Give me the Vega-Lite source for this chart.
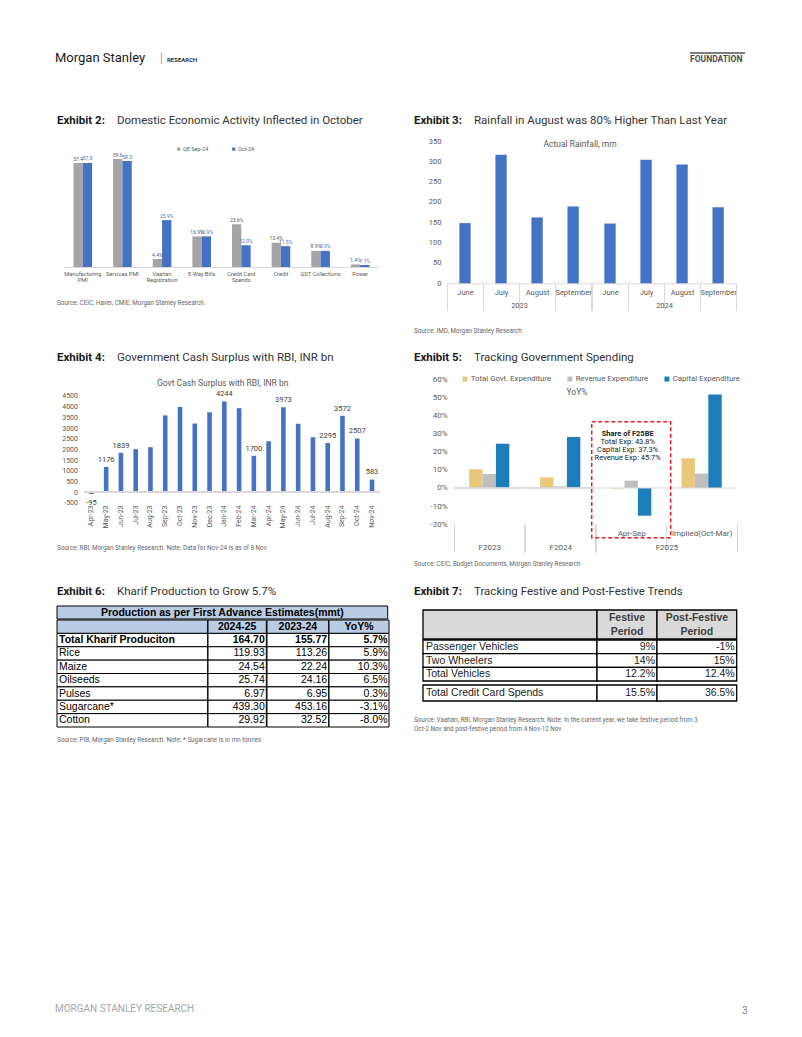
{
"$schema": "https://vega.github.io/schema/vega-lite/v6.json",
"autosize": {"type": "pad"},
"padding": {"left": 55, "top": 50, "right": 5, "bottom": 5},
"background": "#ffffff",
"config": {"view": {"stroke": null}, "font": "Roboto", "axis": {"labelFont": "Roboto", "labelColor": "#595959", "titleFont": "Roboto"}, "legend": {"labelFont": "Roboto", "labelColor": "#595959"}, "title": {"font": "Roboto", "fontWeight": "normal", "color": "#262626"}},
"datasets": {
"ex2": [
{"c": "Manufacturing PMI", "s": "QE Sep-24", "v": 57.4, "lbl": "57.4"},
{"c": "Manufacturing PMI", "s": "Oct-24", "v": 57.5, "lbl": "57.5"},
{"c": "Services PMI", "s": "QE Sep-24", "v": 59.6, "lbl": "59.6"},
{"c": "Services PMI", "s": "Oct-24", "v": 58.5, "lbl": "58.5"},
{"c": "Vaahan Registration", "s": "QE Sep-24", "v": 4.4, "lbl": "4.4%"},
{"c": "Vaahan Registration", "s": "Oct-24", "v": 25.9, "lbl": "25.9%"},
{"c": "E-Way Bills", "s": "QE Sep-24", "v": 16.9, "lbl": "16.9%"},
{"c": "E-Way Bills", "s": "Oct-24", "v": 16.9, "lbl": "16.9%"},
{"c": "Credit Card Spends", "s": "QE Sep-24", "v": 23.6, "lbl": "23.6%"},
{"c": "Credit Card Spends", "s": "Oct-24", "v": 12.0, "lbl": "12.0%"},
{"c": "Credit", "s": "QE Sep-24", "v": 13.4, "lbl": "13.4%"},
{"c": "Credit", "s": "Oct-24", "v": 11.5, "lbl": "11.5%"},
{"c": "GST Collections", "s": "QE Sep-24", "v": 8.9, "lbl": "8.9%"},
{"c": "GST Collections", "s": "Oct-24", "v": 8.9, "lbl": "8.9%"},
{"c": "Power", "s": "QE Sep-24", "v": 1.4, "lbl": "1.4%"},
{"c": "Power", "s": "Oct-24", "v": 1.1, "lbl": "1.1%"}
],
"ex3": [
{"year": "2023", "month": "June", "mm": 148},
{"year": "2023", "month": "July", "mm": 316},
{"year": "2023", "month": "August", "mm": 162},
{"year": "2023", "month": "September", "mm": 189},
{"year": "2024", "month": "June", "mm": 147},
{"year": "2024", "month": "July", "mm": 304},
{"year": "2024", "month": "August", "mm": 292},
{"year": "2024", "month": "September", "mm": 187}
],
"ex4": [
{"m": "Apr-23", "val": -95, "show": true},
{"m": "May-23", "val": 1176, "show": true},
{"m": "Jun-23", "val": 1839, "show": true},
{"m": "Jul-23", "val": 2010, "show": false},
{"m": "Aug-23", "val": 2100, "show": false},
{"m": "Sep-23", "val": 3590, "show": false},
{"m": "Oct-23", "val": 3990, "show": false},
{"m": "Nov-23", "val": 3210, "show": false},
{"m": "Dec-23", "val": 3740, "show": false},
{"m": "Jan-24", "val": 4244, "show": true},
{"m": "Feb-24", "val": 3930, "show": false},
{"m": "Mar-24", "val": 1700, "show": true},
{"m": "Apr-24", "val": 2380, "show": false},
{"m": "May-24", "val": 3973, "show": true},
{"m": "Jun-24", "val": 3200, "show": false},
{"m": "Jul-24", "val": 2570, "show": false},
{"m": "Aug-24", "val": 2295, "show": true},
{"m": "Sep-24", "val": 3572, "show": true},
{"m": "Oct-24", "val": 2507, "show": true},
{"m": "Nov-24", "val": 583, "show": true}
],
"ex5": [
{"grp": "F2023", "clu": "F2023", "ser": "Total Govt. Expenditure", "v": 10.4},
{"grp": "F2023", "clu": "F2023", "ser": "Revenue Expenditure", "v": 7.8},
{"grp": "F2023", "clu": "F2023", "ser": "Capital Expenditure", "v": 24.6},
{"grp": "F2024", "clu": "F2024", "ser": "Total Govt. Expenditure", "v": 5.9},
{"grp": "F2024", "clu": "F2024", "ser": "Revenue Expenditure", "v": 0.9},
{"grp": "F2024", "clu": "F2024", "ser": "Capital Expenditure", "v": 28.3},
{"grp": "F2025", "clu": "Apr-Sep", "ser": "Total Govt. Expenditure", "v": -0.3},
{"grp": "F2025", "clu": "Apr-Sep", "ser": "Revenue Expenditure", "v": 4.1},
{"grp": "F2025", "clu": "Apr-Sep", "ser": "Capital Expenditure", "v": -15.4},
{"grp": "F2025", "clu": "Implied(Oct-Mar)", "ser": "Total Govt. Expenditure", "v": 16.5},
{"grp": "F2025", "clu": "Implied(Oct-Mar)", "ser": "Revenue Expenditure", "v": 8.0},
{"grp": "F2025", "clu": "Implied(Oct-Mar)", "ser": "Capital Expenditure", "v": 52.0}
],
"ex5box": [{"clu": "Apr-Sep", "top": 36.8, "bot": -27.6}],
"ex5note": [
{"clu": "Apr-Sep", "v": 29.8, "t": "Share of F25BE", "b": true},
{"clu": "Apr-Sep", "v": 25.4, "t": "Total Exp: 43.8%", "b": false},
{"clu": "Apr-Sep", "v": 21.3, "t": "Capital Exp: 37.3%", "b": false},
{"clu": "Apr-Sep", "v": 16.7, "t": "Revenue Exp: 45.7%", "b": false}
],
"t6": [
{"r": "h", "k": "h", "c1": "", "c2": "2024-25", "c3": "2023-24", "c4": "YoY%"},
{"r": "t", "k": "b", "c1": "Total Kharif Produciton", "c2": "164.70", "c3": "155.77", "c4": "5.7%"},
{"r": "1", "k": "n", "c1": "Rice", "c2": "119.93", "c3": "113.26", "c4": "5.9%"},
{"r": "2", "k": "n", "c1": "Maize", "c2": "24.54", "c3": "22.24", "c4": "10.3%"},
{"r": "3", "k": "n", "c1": "Oilseeds", "c2": "25.74", "c3": "24.16", "c4": "6.5%"},
{"r": "4", "k": "n", "c1": "Pulses", "c2": "6.97", "c3": "6.95", "c4": "0.3%"},
{"r": "5", "k": "n", "c1": "Sugarcane*", "c2": "439.30", "c3": "453.16", "c4": "-3.1%"},
{"r": "6", "k": "n", "c1": "Cotton", "c2": "29.92", "c3": "32.52", "c4": "-8.0%"}
],
"t7h": [{"c1": "", "c2": "Festive\nPeriod", "c3": "Post-Festive\nPeriod"}],
"t7": [
{"r": "pv", "c1": "Passenger Vehicles", "c2": "9%", "c3": "-1%"},
{"r": "tw", "c1": "Two Wheelers", "c2": "14%", "c3": "15%"},
{"r": "tv", "c1": "Total Vehicles", "c2": "12.2%", "c3": "12.4%"},
{"r": "cc", "c1": "Total Credit Card Spends", "c2": "15.5%", "c3": "36.5%"}
]
},
"spacing": 19,
"bounds": "full",
"resolve": {"scale": {"color": "independent"}, "legend": {"color": "independent"}},
"hconcat": [
{"vconcat": [
 {"hconcat": [
  {"width": 105, "height": 15, "data": {"values": [{}]}, "mark": {"type": "text", "fontSize": 0.1}, "encoding": {"text": {"value": ""}}, "title": {"text": "Morgan Stanley", "orient": "bottom", "anchor": "start", "offset": -13, "font": "Roboto", "fontSize": 13, "fontWeight": "normal", "color": "#1a1a1a"}},
  {"width": 7, "height": 15, "data": {"values": [{}]}, "mark": {"type": "text", "fontSize": 0.1}, "encoding": {"text": {"value": ""}}, "title": {"text": "|", "orient": "bottom", "anchor": "start", "offset": -12, "font": "Roboto", "fontSize": 12, "fontWeight": "normal", "color": "#999999"}},
  {"width": 60, "height": 15, "data": {"values": [{}]}, "mark": {"type": "text", "fontSize": 0.1}, "encoding": {"text": {"value": ""}}, "title": {"text": "RESEARCH", "orient": "bottom", "anchor": "start", "offset": -8.5, "font": "Roboto", "fontSize": 6, "fontWeight": "bold", "color": "#333333"}}
 ], "spacing": 0, "bounds": "flush"},
 {"width": 1, "height": 48, "data": {"values": [{}]}, "mark": {"type": "text", "fontSize": 0.1}, "encoding": {"text": {"value": ""}}},
 {"hconcat": [
  {"width": 62, "height": 14, "data": {"values": [{}]}, "mark": {"type": "text", "fontSize": 0.1}, "encoding": {"text": {"value": ""}}, "title": {"text": "Exhibit 2:", "orient": "bottom", "anchor": "start", "offset": -12, "dx": 2, "font": "Roboto", "fontSize": 11.5, "fontWeight": "bold", "color": "#1a1a1a"}},
  {"width": 278, "height": 14, "data": {"values": [{}]}, "mark": {"type": "text", "fontSize": 0.1}, "encoding": {"text": {"value": ""}}, "title": {"text": "Domestic Economic Activity Inflected in October", "orient": "bottom", "anchor": "start", "offset": -12, "font": "Roboto", "fontSize": 11.5, "fontWeight": "normal", "color": "#333333"}}
 ], "spacing": 0, "bounds": "flush"},
 {"width": 1, "height": 14, "data": {"values": [{}]}, "mark": {"type": "text", "fontSize": 0.1}, "encoding": {"text": {"value": ""}}},
 {"hconcat": [
  {"width": 8, "height": 149, "data": {"values": [{}]}, "mark": {"type": "text", "fontSize": 0.1}, "encoding": {"text": {"value": ""}}},
  {"width": 317, "height": 149, "data": {"name": "ex2"},
   "resolve": {"axis": {"x": "independent", "y": "independent"}},
   "layer": [
    {"transform": [{"filter": "datum.s === 'QE Sep-24'"}],
     "mark": {"type": "bar", "xOffset": -4.65, "width": 9.3},
     "encoding": {
      "x": {"field": "c", "type": "nominal", "sort": null, "title": null, "scale": {"domain": ["Manufacturing PMI", "Services PMI", "Vaahan Registration", "E-Way Bills", "Credit Card Spends", "Credit", "GST Collections", "Power"], "paddingInner": 0.53, "paddingOuter": 0.265},
       "axis": {"orient": "bottom", "offset": -23, "labelAngle": 0, "labelFontSize": 5.7, "labelColor": "#595959", "labelPadding": 3.5, "labelLineHeight": 6.2, "labelOverlap": false, "labelLimit": 0, "ticks": false, "domain": true, "domainColor": "#D9D9D9", "grid": false,
        "labelExpr": "datum.value == 'Manufacturing PMI' ? ['Manufacturing', 'PMI'] : datum.value == 'Vaahan Registration' ? ['Vaahan', 'Registration'] : datum.value == 'Credit Card Spends' ? ['Credit Card', 'Spends'] : datum.label"}},
      "y": {"field": "v", "type": "quantitative", "title": null, "scale": {"domain": [-12.71, 69.61], "nice": false, "zero": false}, "axis": null},
      "color": {"field": "s", "type": "nominal", "scale": {"domain": ["QE Sep-24", "Oct-24"], "range": ["#A5A5A5", "#4472C4"]},
       "legend": {"orient": "none", "legendX": 113, "legendY": 5, "direction": "horizontal", "title": null, "symbolType": "square", "symbolSize": 10, "symbolStrokeWidth": 0, "labelFontSize": 5.5, "labelColor": "#595959", "labelOffset": 1.5, "columnPadding": 22, "padding": 0}}
     }},
    {"transform": [{"filter": "datum.s === 'Oct-24'"}],
     "mark": {"type": "bar", "xOffset": 4.65, "width": 9.3},
     "encoding": {
      "x": {"field": "c", "type": "nominal", "sort": null, "title": null, "axis": null},
      "y": {"field": "v", "type": "quantitative", "title": null, "axis": null},
      "color": {"field": "s", "type": "nominal", "scale": {"domain": ["QE Sep-24", "Oct-24"], "range": ["#A5A5A5", "#4472C4"]},
       "legend": {"orient": "none", "legendX": 113, "legendY": 5, "direction": "horizontal", "title": null, "symbolType": "square", "symbolSize": 10, "symbolStrokeWidth": 0, "labelFontSize": 5.5, "labelColor": "#595959", "labelOffset": 1.5, "columnPadding": 22, "padding": 0}}
     }},
    {"transform": [{"filter": "datum.s === 'QE Sep-24'"}],
     "mark": {"type": "text", "baseline": "bottom", "dy": -1.5, "xOffset": -4.65, "fontSize": 5, "font": "Roboto", "color": "#595959"},
     "encoding": {"x": {"field": "c", "type": "nominal", "title": null, "axis": null}, "y": {"field": "v", "type": "quantitative", "title": null, "axis": null}, "text": {"field": "lbl", "type": "nominal"}}},
    {"transform": [{"filter": "datum.s === 'Oct-24'"}],
     "mark": {"type": "text", "baseline": "bottom", "dy": -1.5, "xOffset": 4.65, "fontSize": 5, "font": "Roboto", "color": "#4472C4"},
     "encoding": {"x": {"field": "c", "type": "nominal", "title": null, "axis": null}, "y": {"field": "v", "type": "quantitative", "title": null, "axis": null}, "text": {"field": "lbl", "type": "nominal"}}}
   ]}
 ], "spacing": 0, "bounds": "flush", "resolve": {"scale": {"color": "independent"}, "legend": {"color": "independent"}}},
 {"width": 1, "height": 9, "data": {"values": [{}]}, "mark": {"type": "text", "fontSize": 0.1}, "encoding": {"text": {"value": ""}}},
 {"width": 330, "height": 8, "data": {"values": [{}]}, "mark": {"type": "text", "fontSize": 0.1}, "encoding": {"text": {"value": ""}}, "title": {"text": "Source: CEIC, Haver, CMIE, Morgan Stanley Research.", "orient": "bottom", "anchor": "start", "offset": -7, "dx": 2, "font": "Roboto", "fontSize": 6.3, "fontWeight": "normal", "color": "#666666"}},
 {"width": 1, "height": 43, "data": {"values": [{}]}, "mark": {"type": "text", "fontSize": 0.1}, "encoding": {"text": {"value": ""}}},
 {"hconcat": [
  {"width": 62, "height": 14, "data": {"values": [{}]}, "mark": {"type": "text", "fontSize": 0.1}, "encoding": {"text": {"value": ""}}, "title": {"text": "Exhibit 4:", "orient": "bottom", "anchor": "start", "offset": -12, "dx": 2, "font": "Roboto", "fontSize": 11.5, "fontWeight": "bold", "color": "#1a1a1a"}},
  {"width": 278, "height": 14, "data": {"values": [{}]}, "mark": {"type": "text", "fontSize": 0.1}, "encoding": {"text": {"value": ""}}, "title": {"text": "Government Cash Surplus with RBI, INR bn", "orient": "bottom", "anchor": "start", "offset": -12, "font": "Roboto", "fontSize": 11.5, "fontWeight": "normal", "color": "#333333"}}
 ], "spacing": 0, "bounds": "flush"},
 {"width": 1, "height": 12, "data": {"values": [{}]}, "mark": {"type": "text", "fontSize": 0.1}, "encoding": {"text": {"value": ""}}},
 {"hconcat": [
  {"width": 28.6, "height": 164, "data": {"values": [{}]}, "mark": {"type": "text", "fontSize": 0.1}, "encoding": {"text": {"value": ""}}},
  {"width": 295.4, "height": 164, "data": {"name": "ex4"},
   "resolve": {"axis": {"x": "independent", "y": "independent"}},
   "layer": [
    {"mark": {"type": "bar", "color": "#4472C4"},
     "encoding": {
      "x": {"field": "m", "type": "nominal", "sort": null, "title": null,
       "scale": {"domain": ["Apr-23", "May-23", "Jun-23", "Jul-23", "Aug-23", "Sep-23", "Oct-23", "Nov-23", "Dec-23", "Jan-24", "Feb-24", "Mar-24", "Apr-24", "May-24", "Jun-24", "Jul-24", "Aug-24", "Sep-24", "Oct-24", "Nov-24"], "paddingInner": 0.69, "paddingOuter": 0.345},
       "axis": {"orient": "bottom", "offset": -37.3, "labelAngle": 270, "labelFontSize": 7, "labelColor": "#595959", "labelPadding": 2.3, "labelOverlap": false, "ticks": false, "domain": false, "grid": false}},
      "y": {"field": "val", "type": "quantitative", "title": null, "scale": {"domain": [-2248, 5437], "nice": false, "zero": false},
       "axis": {"orient": "left", "values": [-500, 0, 500, 1000, 1500, 2000, 2500, 3000, 3500, 4000, 4500], "labelExpr": "'' + datum.value", "labelFontSize": 7, "labelColor": "#595959", "labelPadding": 6.5, "ticks": false, "domain": false, "grid": false}}
     }},
    {"mark": {"type": "rule", "color": "#D9D9D9", "strokeWidth": 1}, "encoding": {"y": {"datum": 0, "type": "quantitative", "title": null, "axis": null}}},
    {"transform": [{"filter": "datum.show && datum.val > 0"}],
     "mark": {"type": "text", "baseline": "bottom", "dy": -3.2, "fontSize": 7.5, "color": "#404040", "font": "Roboto"},
     "encoding": {"x": {"field": "m", "type": "nominal", "title": null, "axis": null}, "y": {"field": "val", "type": "quantitative", "title": null, "axis": null}, "text": {"field": "val", "type": "nominal"}}},
    {"transform": [{"filter": "datum.show && datum.val < 0"}],
     "mark": {"type": "text", "baseline": "top", "dy": 5, "fontSize": 7.5, "color": "#404040", "font": "Roboto"},
     "encoding": {"x": {"field": "m", "type": "nominal", "title": null, "axis": null}, "y": {"field": "val", "type": "quantitative", "title": null, "axis": null}, "text": {"field": "val", "type": "nominal"}}},
    {"data": {"values": [{"t": "Govt Cash Surplus with RBI, INR bn"}]},
     "mark": {"type": "text", "fontSize": 8.5, "color": "#595959", "dx": -9, "font": "Roboto"},
     "encoding": {"text": {"field": "t", "type": "nominal"}, "y": {"datum": 5115, "type": "quantitative", "title": null, "axis": null}}}
   ]}
 ], "spacing": 0, "bounds": "flush"},
 {"width": 1, "height": 4, "data": {"values": [{}]}, "mark": {"type": "text", "fontSize": 0.1}, "encoding": {"text": {"value": ""}}},
 {"width": 330, "height": 8, "data": {"values": [{}]}, "mark": {"type": "text", "fontSize": 0.1}, "encoding": {"text": {"value": ""}}, "title": {"text": "Source: RBI, Morgan Stanley Research. Note: Data for Nov-24 is as of 8 Nov", "orient": "bottom", "anchor": "start", "offset": -7, "dx": 2, "font": "Roboto", "fontSize": 6.3, "fontWeight": "normal", "color": "#666666"}},
 {"width": 1, "height": 32, "data": {"values": [{}]}, "mark": {"type": "text", "fontSize": 0.1}, "encoding": {"text": {"value": ""}}},
 {"hconcat": [
  {"width": 62, "height": 14, "data": {"values": [{}]}, "mark": {"type": "text", "fontSize": 0.1}, "encoding": {"text": {"value": ""}}, "title": {"text": "Exhibit 6:", "orient": "bottom", "anchor": "start", "offset": -12, "dx": 2, "font": "Roboto", "fontSize": 11.5, "fontWeight": "bold", "color": "#1a1a1a"}},
  {"width": 278, "height": 14, "data": {"values": [{}]}, "mark": {"type": "text", "fontSize": 0.1}, "encoding": {"text": {"value": ""}}, "title": {"text": "Kharif Production to Grow 5.7%", "orient": "bottom", "anchor": "start", "offset": -12, "font": "Roboto", "fontSize": 11.5, "fontWeight": "normal", "color": "#333333"}}
 ], "spacing": 0, "bounds": "flush"},
 {"width": 1, "height": 7, "data": {"values": [{}]}, "mark": {"type": "text", "fontSize": 0.1}, "encoding": {"text": {"value": ""}}},
 {"hconcat": [
  {"width": 1, "height": 120, "data": {"values": [{}]}, "mark": {"type": "text", "fontSize": 0.1}, "encoding": {"text": {"value": ""}}},
  {"vconcat": [
   {"width": 330.7, "height": 13, "data": {"values": [{"t": "Production as per First Advance Estimates(mmt)"}]},
    "layer": [
     {"mark": {"type": "rect", "fill": "#B8CCE4", "stroke": "#000000", "strokeWidth": 1},
      "encoding": {"x": {"datum": 0, "type": "quantitative", "title": null, "scale": {"domain": [0, 1], "nice": false, "zero": false}, "axis": null}, "x2": {"datum": 1}, "y": {"datum": 0, "type": "quantitative", "title": null, "scale": {"domain": [0, 1], "nice": false, "zero": false}, "axis": null}, "y2": {"datum": 1}}},
     {"mark": {"type": "text", "font": "Liberation Sans, Arial", "fontSize": 10.5, "fontWeight": "bold", "color": "#000000"},
      "encoding": {"x": {"datum": 0.5, "type": "quantitative", "title": null, "axis": null}, "y": {"datum": 0.5, "type": "quantitative", "title": null, "axis": null}, "text": {"field": "t", "type": "nominal"}}}
    ]},
   {"hconcat": [
    {"width": 150.7, "height": 107, "data": {"name": "t6"},
     "layer": [
      {"mark": {"type": "rect", "stroke": "#000000", "strokeWidth": 1},
       "encoding": {"x": {"datum": 0, "type": "quantitative", "title": null, "scale": {"domain": [0, 1], "nice": false, "zero": false}, "axis": null}, "x2": {"datum": 1},
        "y": {"field": "r", "type": "nominal", "title": null, "axis": null, "scale": {"domain": ["h", "t", "1", "2", "3", "4", "5", "6"], "paddingInner": 0, "paddingOuter": 0}},
        "fill": {"condition": {"test": "datum.k === 'h'", "value": "#B8CCE4"}, "value": "#FFFFFF"}}},
      {"transform": [{"filter": "datum.k === 'b'"}], "mark": {"type": "text", "font": "Liberation Sans, Arial", "fontSize": 10.5, "fontWeight": "bold", "color": "#000000", "align": "left", "dx": 2},
       "encoding": {"x": {"datum": 0, "type": "quantitative", "title": null, "axis": null}, "y": {"field": "r", "type": "nominal", "title": null, "axis": null}, "text": {"field": "c1", "type": "nominal"}}},
      {"transform": [{"filter": "datum.k === 'n'"}], "mark": {"type": "text", "font": "Liberation Sans, Arial", "fontSize": 10.5, "color": "#000000", "align": "left", "dx": 2},
       "encoding": {"x": {"datum": 0, "type": "quantitative", "title": null, "axis": null}, "y": {"field": "r", "type": "nominal", "title": null, "axis": null}, "text": {"field": "c1", "type": "nominal"}}}
     ]},
    {"width": 58.3, "height": 107, "data": {"name": "t6"},
     "layer": [
      {"mark": {"type": "rect", "stroke": "#000000", "strokeWidth": 1},
       "encoding": {"x": {"datum": 0, "type": "quantitative", "title": null, "scale": {"domain": [0, 1], "nice": false, "zero": false}, "axis": null}, "x2": {"datum": 1},
        "y": {"field": "r", "type": "nominal", "title": null, "axis": null, "scale": {"domain": ["h", "t", "1", "2", "3", "4", "5", "6"], "paddingInner": 0, "paddingOuter": 0}},
        "fill": {"condition": {"test": "datum.k === 'h'", "value": "#B8CCE4"}, "value": "#FFFFFF"}}},
      {"transform": [{"filter": "datum.k === 'h'"}], "mark": {"type": "text", "font": "Liberation Sans, Arial", "fontSize": 10.5, "fontWeight": "bold", "color": "#000000"},
       "encoding": {"x": {"datum": 0.5, "type": "quantitative", "title": null, "axis": null}, "y": {"field": "r", "type": "nominal", "title": null, "axis": null}, "text": {"field": "c2", "type": "nominal"}}},
      {"transform": [{"filter": "datum.k === 'b'"}], "mark": {"type": "text", "font": "Liberation Sans, Arial", "fontSize": 10.5, "fontWeight": "bold", "color": "#000000", "align": "right", "dx": -1.5},
       "encoding": {"x": {"datum": 1, "type": "quantitative", "title": null, "axis": null}, "y": {"field": "r", "type": "nominal", "title": null, "axis": null}, "text": {"field": "c2", "type": "nominal"}}},
      {"transform": [{"filter": "datum.k === 'n'"}], "mark": {"type": "text", "font": "Liberation Sans, Arial", "fontSize": 10.5, "color": "#000000", "align": "right", "dx": -1.5},
       "encoding": {"x": {"datum": 1, "type": "quantitative", "title": null, "axis": null}, "y": {"field": "r", "type": "nominal", "title": null, "axis": null}, "text": {"field": "c2", "type": "nominal"}}}
     ]},
    {"width": 61.7, "height": 107, "data": {"name": "t6"},
     "layer": [
      {"mark": {"type": "rect", "stroke": "#000000", "strokeWidth": 1},
       "encoding": {"x": {"datum": 0, "type": "quantitative", "title": null, "scale": {"domain": [0, 1], "nice": false, "zero": false}, "axis": null}, "x2": {"datum": 1},
        "y": {"field": "r", "type": "nominal", "title": null, "axis": null, "scale": {"domain": ["h", "t", "1", "2", "3", "4", "5", "6"], "paddingInner": 0, "paddingOuter": 0}},
        "fill": {"condition": {"test": "datum.k === 'h'", "value": "#B8CCE4"}, "value": "#FFFFFF"}}},
      {"transform": [{"filter": "datum.k === 'h'"}], "mark": {"type": "text", "font": "Liberation Sans, Arial", "fontSize": 10.5, "fontWeight": "bold", "color": "#000000"},
       "encoding": {"x": {"datum": 0.5, "type": "quantitative", "title": null, "axis": null}, "y": {"field": "r", "type": "nominal", "title": null, "axis": null}, "text": {"field": "c3", "type": "nominal"}}},
      {"transform": [{"filter": "datum.k === 'b'"}], "mark": {"type": "text", "font": "Liberation Sans, Arial", "fontSize": 10.5, "fontWeight": "bold", "color": "#000000", "align": "right", "dx": -1.5},
       "encoding": {"x": {"datum": 1, "type": "quantitative", "title": null, "axis": null}, "y": {"field": "r", "type": "nominal", "title": null, "axis": null}, "text": {"field": "c3", "type": "nominal"}}},
      {"transform": [{"filter": "datum.k === 'n'"}], "mark": {"type": "text", "font": "Liberation Sans, Arial", "fontSize": 10.5, "color": "#000000", "align": "right", "dx": -1.5},
       "encoding": {"x": {"datum": 1, "type": "quantitative", "title": null, "axis": null}, "y": {"field": "r", "type": "nominal", "title": null, "axis": null}, "text": {"field": "c3", "type": "nominal"}}}
     ]},
    {"width": 60, "height": 107, "data": {"name": "t6"},
     "layer": [
      {"mark": {"type": "rect", "stroke": "#000000", "strokeWidth": 1},
       "encoding": {"x": {"datum": 0, "type": "quantitative", "title": null, "scale": {"domain": [0, 1], "nice": false, "zero": false}, "axis": null}, "x2": {"datum": 1},
        "y": {"field": "r", "type": "nominal", "title": null, "axis": null, "scale": {"domain": ["h", "t", "1", "2", "3", "4", "5", "6"], "paddingInner": 0, "paddingOuter": 0}},
        "fill": {"condition": {"test": "datum.k === 'h'", "value": "#B8CCE4"}, "value": "#FFFFFF"}}},
      {"transform": [{"filter": "datum.k === 'h'"}], "mark": {"type": "text", "font": "Liberation Sans, Arial", "fontSize": 10.5, "fontWeight": "bold", "color": "#000000"},
       "encoding": {"x": {"datum": 0.5, "type": "quantitative", "title": null, "axis": null}, "y": {"field": "r", "type": "nominal", "title": null, "axis": null}, "text": {"field": "c4", "type": "nominal"}}},
      {"transform": [{"filter": "datum.k === 'b'"}], "mark": {"type": "text", "font": "Liberation Sans, Arial", "fontSize": 10.5, "fontWeight": "bold", "color": "#000000", "align": "right", "dx": -1.5},
       "encoding": {"x": {"datum": 1, "type": "quantitative", "title": null, "axis": null}, "y": {"field": "r", "type": "nominal", "title": null, "axis": null}, "text": {"field": "c4", "type": "nominal"}}},
      {"transform": [{"filter": "datum.k === 'n'"}], "mark": {"type": "text", "font": "Liberation Sans, Arial", "fontSize": 10.5, "color": "#000000", "align": "right", "dx": -1.5},
       "encoding": {"x": {"datum": 1, "type": "quantitative", "title": null, "axis": null}, "y": {"field": "r", "type": "nominal", "title": null, "axis": null}, "text": {"field": "c4", "type": "nominal"}}}
     ]}
   ], "spacing": 0, "bounds": "flush"}
  ], "spacing": -1, "bounds": "full"}
 ], "spacing": 0, "bounds": "full"},
 {"width": 1, "height": 8, "data": {"values": [{}]}, "mark": {"type": "text", "fontSize": 0.1}, "encoding": {"text": {"value": ""}}},
 {"width": 330, "height": 8, "data": {"values": [{}]}, "mark": {"type": "text", "fontSize": 0.1}, "encoding": {"text": {"value": ""}}, "title": {"text": "Source: PIB, Morgan Stanley Research. Note: * Sugarcane is in mn tonnes", "orient": "bottom", "anchor": "start", "offset": -7, "dx": 2, "font": "Roboto", "fontSize": 6.3, "fontWeight": "normal", "color": "#666666"}},
 {"width": 1, "height": 260, "data": {"values": [{}]}, "mark": {"type": "text", "fontSize": 0.1}, "encoding": {"text": {"value": ""}}},
 {"width": 300, "height": 12, "data": {"values": [{}]}, "mark": {"type": "text", "fontSize": 0.1}, "encoding": {"text": {"value": ""}}, "title": {"text": "MORGAN STANLEY RESEARCH", "orient": "bottom", "anchor": "start", "offset": -12, "font": "Roboto", "fontSize": 10, "fontWeight": "normal", "color": "#A6A6A6"}}
], "spacing": 0, "bounds": "full", "resolve": {"scale": {"color": "independent"}, "legend": {"color": "independent"}}},
{"vconcat": [
 {"width": 1, "height": 2, "data": {"values": [{}]}, "mark": {"type": "text", "fontSize": 0.1}, "encoding": {"text": {"value": ""}}},
 {"hconcat": [
  {"width": 276, "height": 2, "data": {"values": [{}]}, "mark": {"type": "text", "fontSize": 0.1}, "encoding": {"text": {"value": ""}}},
  {"width": 55, "height": 2, "data": {"values": [{}]}, "mark": {"type": "text", "fontSize": 0.1}, "encoding": {"text": {"value": ""}}, "view": {"fill": "#808080", "stroke": null}}
 ], "spacing": 0, "bounds": "flush"},
 {"hconcat": [
  {"width": 276, "height": 11, "data": {"values": [{}]}, "mark": {"type": "text", "fontSize": 0.1}, "encoding": {"text": {"value": ""}}},
  {"width": 55, "height": 11, "data": {"values": [{}]}, "mark": {"type": "text", "fontSize": 0.1}, "encoding": {"text": {"value": ""}}, "title": {"text": "FOUNDATION", "orient": "bottom", "anchor": "start", "offset": -10.4, "font": "Roboto", "fontSize": 8.5, "fontWeight": "bold", "color": "#4d4d4d"}}
 ], "spacing": 0, "bounds": "flush"},
 {"width": 1, "height": 48, "data": {"values": [{}]}, "mark": {"type": "text", "fontSize": 0.1}, "encoding": {"text": {"value": ""}}},
 {"hconcat": [
  {"width": 60, "height": 14, "data": {"values": [{}]}, "mark": {"type": "text", "fontSize": 0.1}, "encoding": {"text": {"value": ""}}, "title": {"text": "Exhibit 3:", "orient": "bottom", "anchor": "start", "offset": -12, "font": "Roboto", "fontSize": 11.5, "fontWeight": "bold", "color": "#1a1a1a"}},
  {"width": 280, "height": 14, "data": {"values": [{}]}, "mark": {"type": "text", "fontSize": 0.1}, "encoding": {"text": {"value": ""}}, "title": {"text": "Rainfall in August was 80% Higher Than Last Year", "orient": "bottom", "anchor": "start", "offset": -12, "font": "Roboto", "fontSize": 11.5, "fontWeight": "normal", "color": "#333333"}}
 ], "spacing": 0, "bounds": "flush"},
 {"width": 1, "height": 3, "data": {"values": [{}]}, "mark": {"type": "text", "fontSize": 0.1}, "encoding": {"text": {"value": ""}}},
 {"hconcat": [
  {"width": 32.7, "height": 185, "data": {"values": [{}]}, "mark": {"type": "text", "fontSize": 0.1}, "encoding": {"text": {"value": ""}}},
  {"width": 144.15, "height": 185,
   "resolve": {"axis": {"x": "independent", "y": "independent"}},
   "layer": [
    {"data": {"name": "ex3"}, "transform": [{"filter": "datum.year === '2023'"}],
     "mark": {"type": "bar", "color": "#4472C4", "width": 11.3},
     "encoding": {
      "x": {"field": "month", "type": "nominal", "sort": null, "title": "2023", "scale": {"domain": ["June", "July", "August", "September"], "paddingInner": 0, "paddingOuter": 0},
       "axis": {"orient": "bottom", "offset": -31.7, "labelAngle": 0, "labelFontSize": 7.5, "labelColor": "#595959", "labelPadding": -22, "labelOverlap": false, "ticks": true, "tickBand": "extent", "tickSize": 27, "tickColor": "#D9D9D9", "domain": true, "domainColor": "#D9D9D9", "grid": false,
        "titleFontSize": 7.5, "titleColor": "#595959", "titleFontWeight": "normal", "titleY": 21.7, "titleBaseline": "middle",
        "encode": {"ticks": {"update": {"opacity": [{"test": "indexof(['July','August','September'], datum.value) < 0", "value": 1}, {"value": 0}]}}}}},
      "y": {"field": "mm", "type": "quantitative", "title": null, "scale": {"domain": [-77.97, 377.06], "nice": false, "zero": false},
       "axis": {"orient": "left", "values": [0, 50, 100, 150, 200, 250, 300, 350], "labelFontSize": 7.5, "labelColor": "#595959", "labelPadding": 6, "ticks": false, "domain": false, "grid": false}}
     }},
    {"data": {"values": [{"t": "Actual Rainfall, mm"}]},
     "mark": {"type": "text", "fontSize": 8.5, "color": "#595959", "dx": 61, "font": "Roboto"},
     "encoding": {"text": {"field": "t", "type": "nominal"}, "y": {"datum": 342, "type": "quantitative", "title": null, "axis": null}}}
   ]},
  {"width": 144.15, "height": 185,
   "data": {"name": "ex3"}, "transform": [{"filter": "datum.year === '2024'"}],
   "mark": {"type": "bar", "color": "#4472C4", "width": 11.3},
   "encoding": {
    "x": {"field": "month", "type": "nominal", "sort": null, "title": "2024", "scale": {"domain": ["June", "July", "August", "September"], "paddingInner": 0, "paddingOuter": 0},
     "axis": {"orient": "bottom", "offset": -31.7, "labelAngle": 0, "labelFontSize": 7.5, "labelColor": "#595959", "labelPadding": -22, "labelOverlap": false, "ticks": true, "tickBand": "extent", "tickSize": 27, "tickColor": "#D9D9D9", "domain": true, "domainColor": "#D9D9D9", "grid": false,
      "titleFontSize": 7.5, "titleColor": "#595959", "titleFontWeight": "normal", "titleY": 21.7, "titleBaseline": "middle",
      "encode": {"ticks": {"update": {"opacity": [{"test": "indexof(['July','August','September'], datum.value) < 0", "value": 1}, {"value": 0}]}}}}},
    "y": {"field": "mm", "type": "quantitative", "title": null, "scale": {"domain": [-77.97, 377.06], "nice": false, "zero": false}, "axis": null}
   }}
 ], "spacing": 0, "bounds": "flush"},
 {"width": 1, "height": 12, "data": {"values": [{}]}, "mark": {"type": "text", "fontSize": 0.1}, "encoding": {"text": {"value": ""}}},
 {"width": 330, "height": 8, "data": {"values": [{}]}, "mark": {"type": "text", "fontSize": 0.1}, "encoding": {"text": {"value": ""}}, "title": {"text": "Source: IMD, Morgan Stanley Research", "orient": "bottom", "anchor": "start", "offset": -7, "font": "Roboto", "fontSize": 6.3, "fontWeight": "normal", "color": "#666666"}},
 {"width": 1, "height": 15, "data": {"values": [{}]}, "mark": {"type": "text", "fontSize": 0.1}, "encoding": {"text": {"value": ""}}},
 {"hconcat": [
  {"width": 60, "height": 14, "data": {"values": [{}]}, "mark": {"type": "text", "fontSize": 0.1}, "encoding": {"text": {"value": ""}}, "title": {"text": "Exhibit 5:", "orient": "bottom", "anchor": "start", "offset": -12, "font": "Roboto", "fontSize": 11.5, "fontWeight": "bold", "color": "#1a1a1a"}},
  {"width": 280, "height": 14, "data": {"values": [{}]}, "mark": {"type": "text", "fontSize": 0.1}, "encoding": {"text": {"value": ""}}, "title": {"text": "Tracking Government Spending", "orient": "bottom", "anchor": "start", "offset": -12, "font": "Roboto", "fontSize": 11.5, "fontWeight": "normal", "color": "#333333"}}
 ], "spacing": 0, "bounds": "flush"},
 {"width": 1, "height": 8, "data": {"values": [{}]}, "mark": {"type": "text", "fontSize": 0.1}, "encoding": {"text": {"value": ""}}},
 {"hconcat": [
  {"width": 39.3, "height": 183, "data": {"values": [{}]}, "mark": {"type": "text", "fontSize": 0.1}, "encoding": {"text": {"value": ""}}},
  {"width": 70.4, "height": 183,
   "data": {"name": "ex5"}, "transform": [{"filter": "datum.grp === 'F2023'"}],
   "resolve": {"axis": {"x": "independent", "y": "independent"}},
   "layer": [
    {"transform": [{"filter": "datum.ser === 'Total Govt. Expenditure'"}], "mark": {"type": "bar", "xOffset": -13.4, "width": 13.4},
     "encoding": {
      "x": {"field": "clu", "type": "nominal", "sort": null, "title": "F2023", "scale": {"domain": ["F2023"], "paddingInner": 0, "paddingOuter": 0},
       "axis": {"orient": "bottom", "offset": -31, "labelAngle": 0, "labelFontSize": 8, "labelColor": "#595959", "labelPadding": -23, "labelOverlap": false, "labelExpr": "''", "ticks": true, "tickBand": "extent", "tickSize": 28, "tickColor": "#D9D9D9", "domain": false, "grid": false, "titleFontSize": 8, "titleColor": "#595959", "titleFontWeight": "normal", "titleY": 23, "titleBaseline": "middle"}},
      "y": {"field": "v", "type": "quantitative", "title": null, "scale": {"domain": [-37.222, 64.444], "nice": false, "zero": false},
       "axis": {"orient": "left", "values": [-20, -10, 0, 10, 20, 30, 40, 50, 60], "labelExpr": "datum.value + '%'", "labelFontSize": 8, "labelColor": "#595959", "labelPadding": 7, "ticks": false, "domain": false, "grid": false}},
      "color": {"field": "ser", "type": "nominal", "scale": {"domain": ["Total Govt. Expenditure", "Revenue Expenditure", "Capital Expenditure"], "range": ["#EAC87A", "#BFBFBF", "#1C7DBA"]},
       "legend": {"orient": "none", "legendX": 47, "legendY": 3, "direction": "horizontal", "title": null, "symbolType": "square", "symbolSize": 25, "symbolStrokeWidth": 0, "labelFontSize": 7.8, "labelColor": "#595959", "labelOffset": 2, "columnPadding": 14, "padding": 0}}
     }},
    {"transform": [{"filter": "datum.ser === 'Revenue Expenditure'"}], "mark": {"type": "bar", "xOffset": 0, "width": 13.4},
     "encoding": {"x": {"field": "clu", "type": "nominal", "sort": null, "title": null, "axis": null}, "y": {"field": "v", "type": "quantitative", "title": null, "axis": null},
      "color": {"field": "ser", "type": "nominal", "scale": {"domain": ["Total Govt. Expenditure", "Revenue Expenditure", "Capital Expenditure"], "range": ["#EAC87A", "#BFBFBF", "#1C7DBA"]},
       "legend": {"orient": "none", "legendX": 47, "legendY": 3, "direction": "horizontal", "title": null, "symbolType": "square", "symbolSize": 25, "symbolStrokeWidth": 0, "labelFontSize": 7.8, "labelColor": "#595959", "labelOffset": 2, "columnPadding": 14, "padding": 0}}}},
    {"transform": [{"filter": "datum.ser === 'Capital Expenditure'"}], "mark": {"type": "bar", "xOffset": 13.4, "width": 13.4},
     "encoding": {"x": {"field": "clu", "type": "nominal", "sort": null, "title": null, "axis": null}, "y": {"field": "v", "type": "quantitative", "title": null, "axis": null},
      "color": {"field": "ser", "type": "nominal", "scale": {"domain": ["Total Govt. Expenditure", "Revenue Expenditure", "Capital Expenditure"], "range": ["#EAC87A", "#BFBFBF", "#1C7DBA"]},
       "legend": {"orient": "none", "legendX": 47, "legendY": 3, "direction": "horizontal", "title": null, "symbolType": "square", "symbolSize": 25, "symbolStrokeWidth": 0, "labelFontSize": 7.8, "labelColor": "#595959", "labelOffset": 2, "columnPadding": 14, "padding": 0}}}},
    {"mark": {"type": "rule", "color": "#D9D9D9", "strokeWidth": 1}, "encoding": {"y": {"datum": 0, "type": "quantitative", "title": null, "axis": null}}}
   ]},
  {"width": 70.4, "height": 183,
   "data": {"name": "ex5"}, "transform": [{"filter": "datum.grp === 'F2024'"}],
   "resolve": {"axis": {"x": "independent", "y": "independent"}},
   "layer": [
    {"transform": [{"filter": "datum.ser === 'Total Govt. Expenditure'"}], "mark": {"type": "bar", "xOffset": -13.4, "width": 13.4},
     "encoding": {
      "x": {"field": "clu", "type": "nominal", "sort": null, "title": "F2024", "scale": {"domain": ["F2024"], "paddingInner": 0, "paddingOuter": 0},
       "axis": {"orient": "bottom", "offset": -31, "labelAngle": 0, "labelFontSize": 8, "labelColor": "#595959", "labelPadding": -23, "labelOverlap": false, "labelExpr": "''", "ticks": true, "tickBand": "extent", "tickSize": 28, "tickColor": "#D9D9D9", "domain": false, "grid": false, "titleFontSize": 8, "titleColor": "#595959", "titleFontWeight": "normal", "titleY": 23, "titleBaseline": "middle"}},
      "y": {"field": "v", "type": "quantitative", "title": null, "scale": {"domain": [-37.222, 64.444], "nice": false, "zero": false}, "axis": null},
      "color": {"field": "ser", "type": "nominal", "scale": {"domain": ["Total Govt. Expenditure", "Revenue Expenditure", "Capital Expenditure"], "range": ["#EAC87A", "#BFBFBF", "#1C7DBA"]},
       "legend": {"orient": "none", "legendX": 47, "legendY": 3, "direction": "horizontal", "title": null, "symbolType": "square", "symbolSize": 25, "symbolStrokeWidth": 0, "labelFontSize": 7.8, "labelColor": "#595959", "labelOffset": 2, "columnPadding": 14, "padding": 0}}
     }},
    {"transform": [{"filter": "datum.ser === 'Revenue Expenditure'"}], "mark": {"type": "bar", "xOffset": 0, "width": 13.4},
     "encoding": {"x": {"field": "clu", "type": "nominal", "sort": null, "title": null, "axis": null}, "y": {"field": "v", "type": "quantitative", "title": null, "axis": null},
      "color": {"field": "ser", "type": "nominal", "scale": {"domain": ["Total Govt. Expenditure", "Revenue Expenditure", "Capital Expenditure"], "range": ["#EAC87A", "#BFBFBF", "#1C7DBA"]},
       "legend": {"orient": "none", "legendX": 47, "legendY": 3, "direction": "horizontal", "title": null, "symbolType": "square", "symbolSize": 25, "symbolStrokeWidth": 0, "labelFontSize": 7.8, "labelColor": "#595959", "labelOffset": 2, "columnPadding": 14, "padding": 0}}}},
    {"transform": [{"filter": "datum.ser === 'Capital Expenditure'"}], "mark": {"type": "bar", "xOffset": 13.4, "width": 13.4},
     "encoding": {"x": {"field": "clu", "type": "nominal", "sort": null, "title": null, "axis": null}, "y": {"field": "v", "type": "quantitative", "title": null, "axis": null},
      "color": {"field": "ser", "type": "nominal", "scale": {"domain": ["Total Govt. Expenditure", "Revenue Expenditure", "Capital Expenditure"], "range": ["#EAC87A", "#BFBFBF", "#1C7DBA"]},
       "legend": {"orient": "none", "legendX": 47, "legendY": 3, "direction": "horizontal", "title": null, "symbolType": "square", "symbolSize": 25, "symbolStrokeWidth": 0, "labelFontSize": 7.8, "labelColor": "#595959", "labelOffset": 2, "columnPadding": 14, "padding": 0}}}},
    {"mark": {"type": "rule", "color": "#D9D9D9", "strokeWidth": 1}, "encoding": {"y": {"datum": 0, "type": "quantitative", "title": null, "axis": null}}},
    {"data": {"values": [{"t": "YoY%"}]},
     "mark": {"type": "text", "fontSize": 8.5, "color": "#595959", "dx": 16.8, "font": "Roboto"},
     "encoding": {"text": {"field": "t", "type": "nominal"}, "y": {"datum": 53.3, "type": "quantitative", "title": null, "axis": null}}}
   ]},
  {"width": 140.8, "height": 183,
   "resolve": {"axis": {"x": "independent", "y": "independent"}},
   "layer": [
    {"data": {"name": "ex5"}, "transform": [{"filter": "datum.grp === 'F2025' && datum.ser === 'Total Govt. Expenditure'"}], "mark": {"type": "bar", "xOffset": -13.4, "width": 13.4},
     "encoding": {
      "x": {"field": "clu", "type": "nominal", "sort": null, "title": "F2025", "scale": {"domain": ["Apr-Sep", "Implied(Oct-Mar)"], "paddingInner": 0, "paddingOuter": 0},
       "axis": {"orient": "bottom", "offset": -31, "labelAngle": 0, "labelFontSize": 8, "labelColor": "#595959", "labelPadding": -23, "labelOverlap": false, "ticks": true, "tickBand": "extent", "tickSize": 28, "tickColor": "#D9D9D9", "domain": false, "grid": false, "titleFontSize": 8, "titleColor": "#595959", "titleFontWeight": "normal", "titleY": 23, "titleBaseline": "middle"}},
      "y": {"field": "v", "type": "quantitative", "title": null, "scale": {"domain": [-37.222, 64.444], "nice": false, "zero": false}, "axis": null},
      "color": {"field": "ser", "type": "nominal", "scale": {"domain": ["Total Govt. Expenditure", "Revenue Expenditure", "Capital Expenditure"], "range": ["#EAC87A", "#BFBFBF", "#1C7DBA"]},
       "legend": {"orient": "none", "legendX": 47, "legendY": 3, "direction": "horizontal", "title": null, "symbolType": "square", "symbolSize": 25, "symbolStrokeWidth": 0, "labelFontSize": 7.8, "labelColor": "#595959", "labelOffset": 2, "columnPadding": 14, "padding": 0}}
     }},
    {"data": {"name": "ex5"}, "transform": [{"filter": "datum.grp === 'F2025' && datum.ser === 'Revenue Expenditure'"}], "mark": {"type": "bar", "xOffset": 0, "width": 13.4},
     "encoding": {"x": {"field": "clu", "type": "nominal", "sort": null, "title": null, "axis": null}, "y": {"field": "v", "type": "quantitative", "title": null, "axis": null},
      "color": {"field": "ser", "type": "nominal", "scale": {"domain": ["Total Govt. Expenditure", "Revenue Expenditure", "Capital Expenditure"], "range": ["#EAC87A", "#BFBFBF", "#1C7DBA"]},
       "legend": {"orient": "none", "legendX": 47, "legendY": 3, "direction": "horizontal", "title": null, "symbolType": "square", "symbolSize": 25, "symbolStrokeWidth": 0, "labelFontSize": 7.8, "labelColor": "#595959", "labelOffset": 2, "columnPadding": 14, "padding": 0}}}},
    {"data": {"name": "ex5"}, "transform": [{"filter": "datum.grp === 'F2025' && datum.ser === 'Capital Expenditure'"}], "mark": {"type": "bar", "xOffset": 13.4, "width": 13.4},
     "encoding": {"x": {"field": "clu", "type": "nominal", "sort": null, "title": null, "axis": null}, "y": {"field": "v", "type": "quantitative", "title": null, "axis": null},
      "color": {"field": "ser", "type": "nominal", "scale": {"domain": ["Total Govt. Expenditure", "Revenue Expenditure", "Capital Expenditure"], "range": ["#EAC87A", "#BFBFBF", "#1C7DBA"]},
       "legend": {"orient": "none", "legendX": 47, "legendY": 3, "direction": "horizontal", "title": null, "symbolType": "square", "symbolSize": 25, "symbolStrokeWidth": 0, "labelFontSize": 7.8, "labelColor": "#595959", "labelOffset": 2, "columnPadding": 14, "padding": 0}}}},
    {"data": {"name": "ex5box"}, "mark": {"type": "rule", "color": "#D9D9D9", "strokeWidth": 1}, "encoding": {"y": {"datum": 0, "type": "quantitative", "title": null, "axis": null}}},
    {"data": {"name": "ex5box"},
     "mark": {"type": "bar", "fill": "transparent", "stroke": "#E31E24", "strokeWidth": 1.5, "strokeDash": [4, 2.5], "width": {"band": 1.122}},
     "encoding": {"x": {"field": "clu", "type": "nominal", "title": null, "axis": null}, "y": {"field": "top", "type": "quantitative", "title": null, "axis": null}, "y2": {"field": "bot"}}},
    {"data": {"name": "ex5note"}, "transform": [{"filter": "datum.b"}],
     "mark": {"type": "text", "fontSize": 7.5, "fontWeight": "bold", "color": "#1a1a1a", "dx": -3.5, "font": "Roboto"},
     "encoding": {"x": {"field": "clu", "type": "nominal", "title": null, "axis": null}, "y": {"field": "v", "type": "quantitative", "title": null, "axis": null}, "text": {"field": "t", "type": "nominal"}}},
    {"data": {"name": "ex5note"}, "transform": [{"filter": "!datum.b"}],
     "mark": {"type": "text", "fontSize": 7.5, "color": "#1a1a1a", "dx": -3.5, "font": "Roboto"},
     "encoding": {"x": {"field": "clu", "type": "nominal", "title": null, "axis": null}, "y": {"field": "v", "type": "quantitative", "title": null, "axis": null}, "text": {"field": "t", "type": "nominal"}}}
   ]}
 ], "spacing": 0, "bounds": "flush", "resolve": {"scale": {"color": "shared"}, "legend": {"color": "shared"}}},
 {"width": 1, "height": 5, "data": {"values": [{}]}, "mark": {"type": "text", "fontSize": 0.1}, "encoding": {"text": {"value": ""}}},
 {"width": 330, "height": 8, "data": {"values": [{}]}, "mark": {"type": "text", "fontSize": 0.1}, "encoding": {"text": {"value": ""}}, "title": {"text": "Source: CEIC, Budget Documents, Morgan Stanley Research", "orient": "bottom", "anchor": "start", "offset": -7, "font": "Roboto", "fontSize": 6.3, "fontWeight": "normal", "color": "#666666"}},
 {"width": 1, "height": 16, "data": {"values": [{}]}, "mark": {"type": "text", "fontSize": 0.1}, "encoding": {"text": {"value": ""}}},
 {"hconcat": [
  {"width": 60, "height": 14, "data": {"values": [{}]}, "mark": {"type": "text", "fontSize": 0.1}, "encoding": {"text": {"value": ""}}, "title": {"text": "Exhibit 7:", "orient": "bottom", "anchor": "start", "offset": -12, "font": "Roboto", "fontSize": 11.5, "fontWeight": "bold", "color": "#1a1a1a"}},
  {"width": 280, "height": 14, "data": {"values": [{}]}, "mark": {"type": "text", "fontSize": 0.1}, "encoding": {"text": {"value": ""}}, "title": {"text": "Tracking Festive and Post-Festive Trends", "orient": "bottom", "anchor": "start", "offset": -12, "font": "Roboto", "fontSize": 11.5, "fontWeight": "normal", "color": "#333333"}}
 ], "spacing": 0, "bounds": "flush"},
 {"width": 1, "height": 11, "data": {"values": [{}]}, "mark": {"type": "text", "fontSize": 0.1}, "encoding": {"text": {"value": ""}}},
 {"hconcat": [
  {"width": 8, "height": 88, "data": {"values": [{}]}, "mark": {"type": "text", "fontSize": 0.1}, "encoding": {"text": {"value": ""}}},
  {"vconcat": [
   {"hconcat": [
    {"width": 174, "height": 29, "data": {"name": "t7h"},
     "layer": [
      {"mark": {"type": "rect", "fill": "#D9D9D9", "stroke": "#000000", "strokeWidth": 1.3},
       "encoding": {"x": {"datum": 0, "type": "quantitative", "title": null, "scale": {"domain": [0, 1], "nice": false, "zero": false}, "axis": null}, "x2": {"datum": 1}, "y": {"datum": 0, "type": "quantitative", "title": null, "scale": {"domain": [0, 1], "nice": false, "zero": false}, "axis": null}, "y2": {"datum": 1}}},
      {"mark": {"type": "text", "font": "Liberation Sans, Arial", "fontSize": 10.5, "fontWeight": "bold", "color": "#404040", "lineBreak": "\n", "lineHeight": 14, "dy": -7},
       "encoding": {"x": {"datum": 0.5, "type": "quantitative", "title": null, "axis": null}, "y": {"datum": 0.5, "type": "quantitative", "title": null, "axis": null}, "text": {"field": "c1", "type": "nominal"}}}
     ]},
    {"width": 60, "height": 29, "data": {"name": "t7h"},
     "layer": [
      {"mark": {"type": "rect", "fill": "#D9D9D9", "stroke": "#000000", "strokeWidth": 1.3},
       "encoding": {"x": {"datum": 0, "type": "quantitative", "title": null, "scale": {"domain": [0, 1], "nice": false, "zero": false}, "axis": null}, "x2": {"datum": 1}, "y": {"datum": 0, "type": "quantitative", "title": null, "scale": {"domain": [0, 1], "nice": false, "zero": false}, "axis": null}, "y2": {"datum": 1}}},
      {"mark": {"type": "text", "font": "Liberation Sans, Arial", "fontSize": 10.5, "fontWeight": "bold", "color": "#404040", "lineBreak": "\n", "lineHeight": 14, "dy": -7},
       "encoding": {"x": {"datum": 0.5, "type": "quantitative", "title": null, "axis": null}, "y": {"datum": 0.5, "type": "quantitative", "title": null, "axis": null}, "text": {"field": "c2", "type": "nominal"}}}
     ]},
    {"width": 79.7, "height": 29, "data": {"name": "t7h"},
     "layer": [
      {"mark": {"type": "rect", "fill": "#D9D9D9", "stroke": "#000000", "strokeWidth": 1.3},
       "encoding": {"x": {"datum": 0, "type": "quantitative", "title": null, "scale": {"domain": [0, 1], "nice": false, "zero": false}, "axis": null}, "x2": {"datum": 1}, "y": {"datum": 0, "type": "quantitative", "title": null, "scale": {"domain": [0, 1], "nice": false, "zero": false}, "axis": null}, "y2": {"datum": 1}}},
      {"mark": {"type": "text", "font": "Liberation Sans, Arial", "fontSize": 10.5, "fontWeight": "bold", "color": "#404040", "lineBreak": "\n", "lineHeight": 14, "dy": -7},
       "encoding": {"x": {"datum": 0.5, "type": "quantitative", "title": null, "axis": null}, "y": {"datum": 0.5, "type": "quantitative", "title": null, "axis": null}, "text": {"field": "c3", "type": "nominal"}}}
     ]}
   ], "spacing": 0, "bounds": "flush"},
   {"hconcat": [
    {"width": 174, "height": 41, "data": {"name": "t7"}, "transform": [{"filter": "datum.r !== 'cc'"}],
     "layer": [
      {"mark": {"type": "rect", "fill": "#FFFFFF", "stroke": "#000000", "strokeWidth": 1.3},
       "encoding": {"x": {"datum": 0, "type": "quantitative", "title": null, "scale": {"domain": [0, 1], "nice": false, "zero": false}, "axis": null}, "x2": {"datum": 1}, "y": {"field": "r", "type": "nominal", "title": null, "axis": null, "scale": {"domain": ["pv", "tw", "tv"], "paddingInner": 0, "paddingOuter": 0}}}},
      {"mark": {"type": "text", "font": "Liberation Sans, Arial", "fontSize": 10.5, "color": "#1a1a1a", "align": "left", "dx": 3},
       "encoding": {"x": {"datum": 0, "type": "quantitative", "title": null, "axis": null}, "y": {"field": "r", "type": "nominal", "title": null, "axis": null}, "text": {"field": "c1", "type": "nominal"}}}
     ]},
    {"width": 60, "height": 41, "data": {"name": "t7"}, "transform": [{"filter": "datum.r !== 'cc'"}],
     "layer": [
      {"mark": {"type": "rect", "fill": "#FFFFFF", "stroke": "#000000", "strokeWidth": 1.3},
       "encoding": {"x": {"datum": 0, "type": "quantitative", "title": null, "scale": {"domain": [0, 1], "nice": false, "zero": false}, "axis": null}, "x2": {"datum": 1}, "y": {"field": "r", "type": "nominal", "title": null, "axis": null, "scale": {"domain": ["pv", "tw", "tv"], "paddingInner": 0, "paddingOuter": 0}}}},
      {"mark": {"type": "text", "font": "Liberation Sans, Arial", "fontSize": 10.5, "color": "#1a1a1a", "align": "right", "dx": -2},
       "encoding": {"x": {"datum": 1, "type": "quantitative", "title": null, "axis": null}, "y": {"field": "r", "type": "nominal", "title": null, "axis": null}, "text": {"field": "c2", "type": "nominal"}}}
     ]},
    {"width": 79.7, "height": 41, "data": {"name": "t7"}, "transform": [{"filter": "datum.r !== 'cc'"}],
     "layer": [
      {"mark": {"type": "rect", "fill": "#FFFFFF", "stroke": "#000000", "strokeWidth": 1.3},
       "encoding": {"x": {"datum": 0, "type": "quantitative", "title": null, "scale": {"domain": [0, 1], "nice": false, "zero": false}, "axis": null}, "x2": {"datum": 1}, "y": {"field": "r", "type": "nominal", "title": null, "axis": null, "scale": {"domain": ["pv", "tw", "tv"], "paddingInner": 0, "paddingOuter": 0}}}},
      {"mark": {"type": "text", "font": "Liberation Sans, Arial", "fontSize": 10.5, "color": "#1a1a1a", "align": "right", "dx": -2},
       "encoding": {"x": {"datum": 1, "type": "quantitative", "title": null, "axis": null}, "y": {"field": "r", "type": "nominal", "title": null, "axis": null}, "text": {"field": "c3", "type": "nominal"}}}
     ]}
   ], "spacing": 0, "bounds": "flush"},
   {"width": 1, "height": 3, "data": {"values": [{}]}, "mark": {"type": "text", "fontSize": 0.1}, "encoding": {"text": {"value": ""}}},
   {"hconcat": [
    {"width": 174, "height": 16, "data": {"name": "t7"}, "transform": [{"filter": "datum.r === 'cc'"}],
     "layer": [
      {"mark": {"type": "rect", "fill": "#FFFFFF", "stroke": "#000000", "strokeWidth": 1.3},
       "encoding": {"x": {"datum": 0, "type": "quantitative", "title": null, "scale": {"domain": [0, 1], "nice": false, "zero": false}, "axis": null}, "x2": {"datum": 1}, "y": {"field": "r", "type": "nominal", "title": null, "axis": null, "scale": {"domain": ["cc"], "paddingInner": 0, "paddingOuter": 0}}}},
      {"mark": {"type": "text", "font": "Liberation Sans, Arial", "fontSize": 10.5, "color": "#1a1a1a", "align": "left", "dx": 3},
       "encoding": {"x": {"datum": 0, "type": "quantitative", "title": null, "axis": null}, "y": {"field": "r", "type": "nominal", "title": null, "axis": null}, "text": {"field": "c1", "type": "nominal"}}}
     ]},
    {"width": 60, "height": 16, "data": {"name": "t7"}, "transform": [{"filter": "datum.r === 'cc'"}],
     "layer": [
      {"mark": {"type": "rect", "fill": "#FFFFFF", "stroke": "#000000", "strokeWidth": 1.3},
       "encoding": {"x": {"datum": 0, "type": "quantitative", "title": null, "scale": {"domain": [0, 1], "nice": false, "zero": false}, "axis": null}, "x2": {"datum": 1}, "y": {"field": "r", "type": "nominal", "title": null, "axis": null, "scale": {"domain": ["cc"], "paddingInner": 0, "paddingOuter": 0}}}},
      {"mark": {"type": "text", "font": "Liberation Sans, Arial", "fontSize": 10.5, "color": "#1a1a1a", "align": "right", "dx": -2},
       "encoding": {"x": {"datum": 1, "type": "quantitative", "title": null, "axis": null}, "y": {"field": "r", "type": "nominal", "title": null, "axis": null}, "text": {"field": "c2", "type": "nominal"}}}
     ]},
    {"width": 79.7, "height": 16, "data": {"name": "t7"}, "transform": [{"filter": "datum.r === 'cc'"}],
     "layer": [
      {"mark": {"type": "rect", "fill": "#FFFFFF", "stroke": "#000000", "strokeWidth": 1.3},
       "encoding": {"x": {"datum": 0, "type": "quantitative", "title": null, "scale": {"domain": [0, 1], "nice": false, "zero": false}, "axis": null}, "x2": {"datum": 1}, "y": {"field": "r", "type": "nominal", "title": null, "axis": null, "scale": {"domain": ["cc"], "paddingInner": 0, "paddingOuter": 0}}}},
      {"mark": {"type": "text", "font": "Liberation Sans, Arial", "fontSize": 10.5, "color": "#1a1a1a", "align": "right", "dx": -2},
       "encoding": {"x": {"datum": 1, "type": "quantitative", "title": null, "axis": null}, "y": {"field": "r", "type": "nominal", "title": null, "axis": null}, "text": {"field": "c3", "type": "nominal"}}}
     ]}
   ], "spacing": 0, "bounds": "flush"}
  ], "spacing": -1.3, "bounds": "full"}
 ], "spacing": 0, "bounds": "full"},
 {"width": 1, "height": 14, "data": {"values": [{}]}, "mark": {"type": "text", "fontSize": 0.1}, "encoding": {"text": {"value": ""}}},
 {"width": 330, "height": 18, "data": {"values": [{}]}, "mark": {"type": "text", "fontSize": 0.1}, "encoding": {"text": {"value": ""}}, "title": {"text": ["Source: Vaahan, RBI, Morgan Stanley Research. Note: In the current year, we take festive period from 3", "Oct-2 Nov and post-festive period from 4 Nov-12 Nov"], "orient": "bottom", "anchor": "start", "offset": -17, "font": "Roboto", "fontSize": 6.3, "lineHeight": 9, "fontWeight": "normal", "color": "#666666"}},
 {"width": 1, "height": 272, "data": {"values": [{}]}, "mark": {"type": "text", "fontSize": 0.1}, "encoding": {"text": {"value": ""}}},
 {"hconcat": [
  {"width": 328, "height": 12, "data": {"values": [{}]}, "mark": {"type": "text", "fontSize": 0.1}, "encoding": {"text": {"value": ""}}},
  {"width": 10, "height": 12, "data": {"values": [{}]}, "mark": {"type": "text", "fontSize": 0.1}, "encoding": {"text": {"value": ""}}, "title": {"text": "3", "orient": "bottom", "anchor": "start", "offset": -12, "font": "Roboto", "fontSize": 10, "fontWeight": "normal", "color": "#7f7f7f"}}
 ], "spacing": 0, "bounds": "flush"}
], "spacing": 0, "bounds": "full", "resolve": {"scale": {"color": "independent"}, "legend": {"color": "independent"}}}
]
}
